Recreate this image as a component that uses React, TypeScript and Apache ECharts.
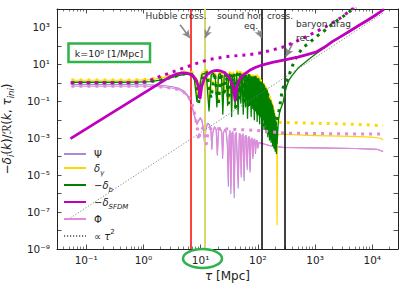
import React, { useEffect, useRef } from 'react';
import * as echarts from 'echarts';

// ---------- axis ticks ----------
const xMajorTicks = [0.1, 1, 10, 100, 1000, 10000];
const yLabelTicks = [1.000001e-9, 1e-7, 1e-5, 1e-3, 1e-1, 10, 1000];
const yMajorTicks = [1.000001e-9, 1e-8, 1e-7, 1e-6, 1e-5, 1e-4, 1e-3, 1e-2, 1e-1, 1, 10, 100, 1000, 9.9999e3];
const xMin = 0.0308;
const xMax = 28200;
const yMin = 1e-9;
const yMax = 1e4;

// ---------- vertical markers (tau in Mpc) ----------
const hubbleCross = 6.6;
const soundHorCross = 11.8;
const equality = 119;
const recombination = 297;

// ---------- series: [tau, value] ----------
const psiSolid: [number, number][] = [
  [0.055, 0.8], [0.5, 0.8], [1.0, 0.79], [1.6, 0.76], [2.2, 0.72], [3.1, 0.63], [4.2, 0.5], [5.0, 0.37], [5.8, 0.24],
  [6.5, 0.13], [7.0, 0.065], [7.6, 0.024], [8.2, 0.009], [8.6, 0.006], [9.2, 0.009], [9.8, 0.013], [10.5, 0.01],
  [11.2, 0.003], [11.7, 5e-4], [12.3, 0.003], [13.2, 0.0065], [14.3, 0.0055], [15.2, 0.002], [15.7, 2.5e-4],
  [16.3, 0.002], [17.5, 0.0042], [18.7, 0.003], [19.6, 1.2e-4], [20.5, 0.0026], [22, 0.0036], [23.4, 0.002],
  [24.2, 8e-5], [25.1, 0.002], [26.5, 0.003], [28, 0.0022], [29.3, 4e-4], [30.5, 2.5e-6], [31.6, 0.0015],
  [32.6, 0.0025], [33.8, 1e-6], [35, 0.0018], [36.6, 0.0022], [38.6, 6e-7], [40.2, 0.0016], [42, 0.002],
  [45.3, 2e-6], [47.5, 0.0018], [49.5, 0.0016], [51.2, 8e-6], [53, 0.0014], [55, 0.0017], [57.5, 5e-6],
  [60, 0.0013], [62.5, 0.0014], [65, 2e-5], [68, 0.0011], [70.5, 0.0012], [73, 1.5e-5], [76, 9e-4], [79, 0.001],
  [82, 8e-5], [85, 8e-4], [88, 9e-4], [91, 1.5e-4], [94, 7e-4], [97, 7.5e-4], [100, 3e-4], [105, 6e-4],
  [110, 5.5e-4], [124, 5e-4], [170, 3.8e-4], [277, 3.2e-4], [1000, 3e-4], [5000, 2.8e-4], [12000, 2.5e-4],
  [15500, 1.9e-4]
];

const phiSolid: [number, number][] = [
  [0.055, 0.66], [0.5, 0.66], [1.0, 0.65], [1.6, 0.63], [2.2, 0.6], [3.1, 0.53], [4.2, 0.42], [5.0, 0.31], [5.8, 0.2],
  [6.5, 0.11], [7.0, 0.055], [7.6, 0.02], [8.2, 0.008], [8.6, 0.0055], [9.2, 0.008], [9.8, 0.012], [10.5, 0.009],
  [11.2, 0.003], [11.7, 6e-4], [12.3, 0.003], [13.2, 0.006], [14.3, 0.005], [15.2, 0.002], [15.7, 3e-4],
  [16.3, 0.002], [17.5, 0.004], [18.7, 0.003], [19.6, 1.5e-4], [20.5, 0.0025], [22, 0.0035], [23.4, 0.002],
  [24.2, 1e-4], [25.1, 0.002], [26.5, 0.003], [28, 0.0022], [29.3, 5e-4], [30.5, 6e-6], [31.6, 0.0015],
  [32.6, 0.0025], [33.8, 2.5e-6], [35, 0.0018], [36.6, 0.0022], [38.6, 1.2e-6], [40.2, 0.0016], [42, 0.002],
  [45.3, 4e-6], [47.5, 0.0018], [49.5, 0.0016], [51.2, 1.2e-5], [53, 0.0014], [55, 0.0017], [57.5, 8e-6],
  [60, 0.0013], [62.5, 0.0014], [65, 3e-5], [68, 0.0011], [70.5, 0.0012], [73, 2e-5], [76, 9e-4], [79, 0.001],
  [82, 1e-4], [85, 8e-4], [88, 9e-4], [91, 2e-4], [94, 7e-4], [97, 7.5e-4], [100, 3e-4], [105, 6e-4],
  [110, 5.5e-4], [124, 5e-4], [170, 3.8e-4], [277, 3.2e-4], [1000, 3e-4], [5000, 2.8e-4], [12000, 2.5e-4],
  [15500, 1.9e-4]
];

const phiDotted: [number, number][] = [
  [0.055, 0.66], [0.5, 0.66], [1, 0.65], [2, 0.6], [3, 0.53], [4, 0.44], [5, 0.33], [6, 0.2], [6.8, 0.1], [7.5, 0.04],
  [8.2, 0.012], [8.8, 0.003], [9.2, 8e-4], [9.8, 0.002], [10.8, 0.0035], [11.8, 0.002], [12.6, 5e-4], [13.4, 0.002],
  [15, 0.0032], [18, 0.0034], [25, 0.0032], [40, 0.003], [70, 0.0028], [120, 0.0025], [200, 0.0021], [300, 0.0019],
  [1000, 0.0018], [5000, 0.0017], [15500, 0.0017]
];

const gammaSolid: [number, number][] = [
  [0.055, 1.38], [0.3, 1.38], [0.8, 1.4], [1.3, 1.5], [2, 1.8], [3, 2.4], [4, 3.1], [5, 3.6], [6, 3.8], [7, 3.2],
  [7.8, 1.8], [8.6, 0.2],
  [10.5, 3.6], [11.5, 4.3], [12.6, 3.4], [14.0, 0.06],
  [15.3, 3.5], [16.6, 4.3], [18.0, 3.0], [19.2, 0.12],
  [20.5, 3.4], [21.8, 4.2], [23.2, 2.8], [24.4, 0.05],
  [25.8, 3.3], [27.0, 4.1], [28.4, 2.6], [29.6, 0.15],
  [31.0, 3.2], [32.2, 4.0], [33.6, 2.5], [34.8, 0.04],
  [36.2, 3.1], [37.4, 3.9], [39.0, 2.3], [40.0, 0.1],
  [42.6, 3.8], [45.2, 0.05], [47.8, 3.7], [50.4, 0.2], [53, 3.6], [55.6, 0.06], [58.2, 3.4], [60.8, 0.12],
  [63.4, 3.3], [66, 0.04], [68.6, 3.1], [71.2, 0.15], [73.8, 2.9], [76.4, 0.05], [79, 2.8], [81.6, 0.1],
  [84.2, 2.6], [86.8, 0.03], [89.4, 2.4], [92, 0.08], [94.6, 2.2], [97.2, 0.03], [99.8, 1.9], [102.4, 0.06],
  [105, 1.6], [107.6, 0.02], [110.2, 1.4], [112.8, 0.04], [115.4, 1.2], [118, 0.015], [120.6, 1.0], [123.2, 0.03],
  [125.8, 0.8], [128.4, 0.01], [131, 0.65], [133.6, 0.02], [136.2, 0.55], [138.8, 0.006], [141.4, 0.45],
  [144, 0.012], [146.6, 0.34], [149.2, 0.004], [151.8, 0.25], [154.4, 0.008], [157, 0.19], [159.6, 0.003],
  [162.2, 0.15], [164.8, 0.005], [167.4, 0.12], [170, 0.002], [172.6, 0.1], [175.2, 0.004], [177.8, 0.085],
  [180.4, 0.0015], [183, 0.07], [185.6, 0.003], [188.2, 0.045], [190.8, 0.001], [193.4, 0.03], [196, 0.0015],
  [198.6, 0.02], [201.2, 6e-4], [203.8, 0.012], [206.4, 8e-4], [209, 0.008], [211.6, 4e-4], [214, 0.005],
  [217, 2e-8], [220, 0.0012], [230, 0.0016], [300, 0.0016], [1000, 0.0014], [3000, 0.0013], [10000, 0.00115],
  [14000, 0.001], [15500, 0.0008]
];

const gammaDotted: [number, number][] = [
  [0.055, 1.42], [0.5, 1.42], [1, 1.5], [2, 1.9], [3, 2.6], [4, 3.3], [5, 3.9], [6, 4.2], [7, 3.8], [8, 2.6],
  [9.2, 0.3], [11, 4.0], [12.8, 4.6], [15.2, 0.3], [17.5, 4.5], [20.3, 0.12], [22.6, 4.4], [25.6, 0.4], [28, 4.3],
  [30.8, 0.15], [33.2, 4.2], [36, 0.5], [38.4, 4.1], [41.2, 0.1], [43.8, 4.0], [46.4, 0.3], [49, 3.8], [51.6, 0.6],
  [54.2, 3.7], [56.8, 0.2], [59.4, 3.6], [62, 0.4], [64.6, 3.4], [67.2, 0.12], [69.8, 3.3], [72.4, 0.3], [75, 3.2],
  [77.6, 0.1], [80.2, 3.0], [82.8, 0.2], [85.4, 2.8], [88, 0.06], [90.6, 2.6], [93.2, 0.15], [95.8, 2.4],
  [98.4, 0.04], [101, 2.0], [103.6, 0.1], [106.2, 1.7], [108.8, 0.03], [111.4, 1.5], [114, 0.08], [116.6, 1.25],
  [119.2, 0.02], [121.8, 1.05], [124.4, 0.04], [127, 0.85], [129.6, 0.01], [132.2, 0.7], [134.8, 0.025],
  [137.4, 0.55], [140, 0.006], [142.6, 0.45], [145.2, 0.015], [147.8, 0.33], [150.4, 0.004], [153, 0.24],
  [155.6, 0.01], [158.2, 0.17], [160.8, 0.003], [163.4, 0.13], [166, 0.006], [168.6, 0.1], [171.2, 0.002],
  [173.8, 0.075], [176.4, 0.004], [179, 0.055], [181.6, 0.0012], [184.2, 0.04], [186.8, 0.0025], [189.4, 0.028],
  [192, 8e-4], [194.6, 0.02], [197.2, 0.0015], [199.8, 0.014], [202.4, 6e-4], [205, 0.01], [210, 0.007],
  [220, 0.006], [240, 0.0072], [400, 0.0069], [1000, 0.0065], [3000, 0.006], [8000, 0.0053], [15500, 0.0048]
];

const baryonSolid: [number, number][] = [
  [0.055, 1.08], [0.3, 1.08], [0.8, 1.1], [1.3, 1.17], [2, 1.4], [3, 1.85], [4, 2.4], [5, 2.8], [6, 2.95], [7, 2.5],
  [7.8, 1.4], [8.6, 0.1],
  [10.5, 2.8], [11.5, 3.3], [12.6, 2.6], [14.0, 0.03],
  [15.3, 2.7], [16.6, 3.3], [18.0, 2.3], [19.2, 0.05],
  [20.5, 2.6], [21.8, 3.2], [23.2, 2.1], [24.4, 0.02],
  [25.8, 2.5], [27.0, 3.1], [28.4, 2.0], [29.6, 0.06],
  [31.0, 2.4], [32.2, 3.0], [33.6, 1.9], [34.8, 0.015],
  [36.2, 2.3], [37.4, 2.9], [39.0, 1.7], [40.0, 0.04],
  [42.6, 2.85], [45.2, 0.02], [47.8, 2.8], [50.4, 0.08], [53, 2.7], [55.6, 0.02], [58.2, 2.55], [60.8, 0.05],
  [63.4, 2.5], [66, 0.012], [68.6, 2.3], [71.2, 0.06], [73.8, 2.2], [76.4, 0.015], [79, 2.1], [81.6, 0.04],
  [84.2, 1.95], [86.8, 0.01], [89.4, 1.8], [92, 0.03], [94.6, 1.65], [97.2, 0.008], [99.8, 1.4], [102.4, 0.02],
  [105, 1.2], [107.6, 0.006], [110.2, 1.05], [112.8, 0.015], [115.4, 0.9], [118, 0.004], [120.6, 0.75],
  [123.2, 0.01], [125.8, 0.6], [128.4, 0.003], [131, 0.5], [133.6, 0.006], [136.2, 0.4], [138.8, 0.002],
  [141.4, 0.33], [144, 0.004], [146.6, 0.25], [149.2, 0.0012], [151.8, 0.18], [154.4, 0.0025], [157, 0.14],
  [159.6, 8e-4], [162.2, 0.11], [164.8, 0.0015], [167.4, 0.09], [170, 6e-4], [172.6, 0.075], [175.2, 0.001],
  [177.8, 0.06], [180.4, 4e-4], [183, 0.05], [185.6, 8e-4], [188.2, 0.032], [190.8, 3e-4], [193.4, 0.022],
  [196, 5e-4], [198.6, 0.014], [201.2, 2e-4], [203.8, 0.009], [206.4, 3e-4], [209, 0.006], [211.6, 1.5e-4],
  [214, 0.004], [217, 5e-4], [222, 0.002], [228, 0.008], [240, 0.025], [255, 0.045], [277, 0.09], [295, 0.25],
  [317, 0.63], [350, 1.4], [390, 2.3], [505, 6.3], [760, 18], [1000, 34], [1200, 52], [2000, 165], [3000, 350],
  [4000, 610], [6000, 1330], [8000, 2280], [11000, 4250], [14000, 7150], [16000, 9400]
];

const baryonDotted: [number, number][] = [
  [0.055, 1.0], [0.5, 1.0], [1, 1.05], [2, 1.4], [3, 1.9], [4, 2.5], [5, 3.0], [6, 3.2], [7, 2.9], [8, 2.0],
  [9.2, 0.08], [11, 3.0], [12.8, 3.6], [15.2, 0.15], [17.5, 3.5], [20.3, 0.06], [22.6, 3.4], [25.6, 0.2],
  [28, 3.3], [30.8, 0.08], [33.2, 3.2], [36, 0.25], [38.4, 3.1], [41.2, 0.05], [43.8, 3.0], [46.4, 0.15],
  [49, 2.9], [51.6, 0.3], [54.2, 2.8], [56.8, 0.1], [59.4, 2.7], [62, 0.2], [64.6, 2.6], [67.2, 0.06],
  [69.8, 2.5], [72.4, 0.15], [75, 2.4], [77.6, 0.05], [80.2, 2.3], [82.8, 0.1], [85.4, 2.1], [88, 0.03],
  [90.6, 2.0], [93.2, 0.08], [95.8, 1.8], [98.4, 0.02], [101, 1.5], [103.6, 0.05], [106.2, 1.3], [108.8, 0.015],
  [111.4, 1.1], [114, 0.04], [116.6, 0.95], [119.2, 0.01], [121.8, 0.8], [124.4, 0.02], [127, 0.65],
  [129.6, 0.005], [132.2, 0.55], [134.8, 0.012], [137.4, 0.42], [140, 0.003], [142.6, 0.35], [145.2, 0.008],
  [147.8, 0.25], [150.4, 0.002], [153, 0.18], [155.6, 0.005], [158.2, 0.13], [160.8, 0.0015], [163.4, 0.1],
  [166, 0.003], [168.6, 0.075], [171.2, 0.001], [173.8, 0.055], [176.4, 0.002], [179, 0.04], [181.6, 6e-4],
  [184.2, 0.03], [186.8, 0.0012], [189.4, 0.02], [192, 4e-4], [194.6, 0.014], [197.2, 8e-4], [199.8, 0.01],
  [202.4, 3e-4], [205, 0.007], [210, 0.006], [220, 0.012], [232, 0.025], [249, 0.1], [265, 0.35], [280, 0.6],
  [300, 0.9], [317, 1.2], [340, 2.2], [362, 3.5], [400, 8], [475, 27], [610, 80], [810, 155], [1110, 360],
  [1530, 750], [1940, 1400], [3000, 3700], [4500, 9500], [5200, 13000]
];

const sfdmSolid: [number, number][] = [
  [0.053, 9.5e-4], [2.9, 2.1], [3.8, 3.0], [4.7, 3.5], [5.6, 3.4], [6.5, 3.0], [7.5, 2.3], [8.5, 1.3], [9.3, 0.5],
  [9.8, 0.15], [10.4, 0.6], [11.5, 1.6], [13, 2.8], [15, 3.8], [17, 4.5], [19.3, 4.8], [22, 4.5], [26, 3.6],
  [30, 2.4], [34, 1.3], [37.5, 0.5], [40, 0.11], [42.5, 0.5], [46, 1.2], [52, 2.2], [60, 3.2], [72, 4.8],
  [90, 6.8], [122, 9.5], [180, 13], [310, 18], [500, 25], [750, 35], [1070, 48], [1500, 90], [2000, 170],
  [3000, 360], [4000, 620], [6000, 1350], [8000, 2300], [11000, 4300], [14000, 7200], [16000, 9500]
];

const sfdmDotted: [number, number][] = [
  [0.053, 1.0], [0.5, 1.0], [1.0, 1.1], [1.5, 1.6], [2.0, 2.3], [3, 3.6], [4.0, 5.0], [6.0, 7.7], [9, 12],
  [13.5, 17.8], [20, 22], [30, 27], [45, 30], [67, 33], [108, 41], [180, 60], [300, 94], [545, 216],
  [1070, 610], [1780, 1400], [3000, 3800], [4400, 10000], [5500, 15000]
];

const tauSquared: [number, number][] = [[0.0527, 4.8e-8], [15500, 6000]];

// annotation arrows: [from tau, from value, to tau, to value]
const arrows: [number, number, number, number][] = [
  [4.37, 1410, 6.5, 267],
  [14.6, 1140, 11.9, 267],
  [101.6, 690, 116, 267],
  [410, 143, 310, 27]
];

const FONT = 'DejaVu Sans';
const SUP: Record<string, string> = {
  '-': '⁻', '0': '⁰', '1': '¹', '2': '²', '3': '³', '4': '⁴', '5': '⁵', '6': '⁶', '7': '⁷', '8': '⁸', '9': '⁹'
};
const pow10Label = (v: number) => {
  const e = Math.round(Math.log10(v));
  return '10' + String(e).split('').map((c) => SUP[c]).join('');
};

const xMinorTicks: number[] = [];
for (let d = -2; d <= 4; d++) {
  for (let m = 2; m <= 9; m++) {
    const v = m * Math.pow(10, d);
    if (v > xMin && v < xMax) xMinorTicks.push(v);
  }
}

const legendNames = ['Psi', 'gamma', 'baryon', 'sfdm', 'Phi', 'tau2'];
const legendLabels: Record<string, string> = {
  Psi: '{t|Ψ}',
  gamma: '{i|δ}{s|γ}',
  baryon: '{t|−}{i|δ}{s|b}',
  sfdm: '{t|−}{i|δ}{s|SFDM}',
  Phi: '{t|Φ}',
  tau2: '{t|∝ }{i|τ}{p|2}'
};

function lineSeries(name: string, data: [number, number][], color: string, width: number, dash: number[] | null, z: number) {
  return {
    name,
    type: 'line',
    data,
    symbol: 'none',
    showSymbol: false,
    silent: true,
    clip: true,
    z,
    lineStyle: { color, width, type: dash ? dash : 'solid', cap: 'butt', join: 'round' },
    itemStyle: { color },
    emphasis: { disabled: true }
  };
}

const axisLineStyle = { color: '#222', width: 1 };

function buildOption() {
  const dot = [3, 5];
  const series: any[] = [
    lineSeries('Psi', psiSolid, '#a98ad8', 1.1, null, 2),
    lineSeries('gamma', gammaSolid, '#ffd700', 1.2, null, 3),
    lineSeries('Phi', phiSolid, '#e389d9', 1.1, null, 4),
    lineSeries('gammaDot', gammaDotted, '#ffd700', 3, dot, 5),
    lineSeries('baryon', baryonSolid, '#008000', 1.3, null, 6),
    lineSeries('baryonDot', baryonDotted, '#008000', 3, dot, 7),
    lineSeries('PhiDot', phiDotted, '#e389d9', 3, dot, 8),
    lineSeries('sfdmDot', sfdmDotted, '#bf00bf', 3, dot, 9),
    lineSeries('sfdm', sfdmSolid, '#bf00bf', 2.8, null, 10),
    lineSeries('tau2', tauSquared, '#777777', 0.9, [1.2, 1.8], 11)
  ];
  const vlines = [
    { xAxis: hubbleCross, lineStyle: { color: '#ff0000', width: 1.5, type: 'solid' } },
    { xAxis: soundHorCross, lineStyle: { color: '#d8d66c', width: 2, type: 'solid' } },
    { xAxis: equality, lineStyle: { color: '#000000', width: 1.5, type: 'solid' } },
    { xAxis: recombination, lineStyle: { color: '#000000', width: 1.5, type: 'solid' } }
  ];
  const arrowLines = arrows.map((a) => [
    { coord: [a[0], a[1]], symbol: 'none' },
    { coord: [a[2], a[3]], symbol: 'arrow', symbolSize: [6, 8], lineStyle: { color: '#888', width: 1.6, type: 'solid' } }
  ]);
  series[series.length - 1].markLine = {
    silent: true,
    symbol: ['none', 'none'],
    label: { show: false },
    emphasis: { disabled: true },
    animation: false,
    lineStyle: { type: 'solid' },
    data: [...vlines, ...arrowLines]
  };

  const xBase = { type: 'log', logBase: 10, min: xMin, max: xMax, gridIndex: 0, splitLine: { show: false } };
  const yBase = { type: 'log', logBase: 10, min: yMin, max: yMax, gridIndex: 0, splitLine: { show: false } };
  const annot = (text: string, x: number, y: number, align: string) => ({
    type: 'text',
    x,
    y,
    z: 100,
    style: { text, fontSize: 9, lineHeight: 9, fontFamily: FONT, fill: '#333', align, verticalAlign: 'middle' }
  });

  return {
    animation: false,
    backgroundColor: '#ffffff',
    textStyle: { fontFamily: FONT },
    grid: { left: 57, right: 9, top: 9, bottom: 42, containLabel: false, outerBoundsMode: 'none' },
    legend: {
      data: legendNames,
      orient: 'vertical',
      left: 63,
      top: 149,
      itemWidth: 22,
      itemHeight: 12,
      itemGap: 4,
      padding: 0,
      selectedMode: false,
      itemStyle: { opacity: 0 },
      formatter: (n: string) => legendLabels[n] || n,
      textStyle: {
        fontFamily: FONT,
        color: '#222',
        padding: [0, 0, 0, 3],
        rich: {
          t: { fontSize: 10, lineHeight: 16, fontFamily: FONT, color: '#222' },
          i: { fontSize: 10, lineHeight: 16, fontStyle: 'italic', fontFamily: FONT, color: '#222' },
          s: { fontSize: 7, lineHeight: 9, fontStyle: 'italic', verticalAlign: 'bottom', fontFamily: FONT, color: '#222' },
          p: { fontSize: 7, lineHeight: 9, verticalAlign: 'top', fontFamily: FONT, color: '#222' }
        }
      }
    },
    xAxis: [
      {
        ...xBase,
        position: 'bottom',
        axisLine: { show: true, onZero: false, lineStyle: axisLineStyle },
        axisTick: { show: true, inside: true, length: 4.5, customValues: xMajorTicks, lineStyle: { color: '#222', width: 0.8 } },
        axisLabel: {
          show: true,
          customValues: xMajorTicks,
          formatter: (v: number) => pow10Label(v),
          fontSize: 10.5,
          fontFamily: FONT,
          color: '#222',
          margin: 5
        },
        name: '{i|τ} [Mpc]',
        nameLocation: 'middle',
        nameGap: 17,
        nameTextStyle: {
          fontSize: 12,
          fontFamily: FONT,
          color: '#222',
          rich: { i: { fontSize: 12, fontStyle: 'italic', fontFamily: FONT, color: '#222' } }
        }
      },
      {
        ...xBase,
        position: 'bottom',
        axisLine: { show: false, onZero: false },
        axisTick: { show: true, inside: true, length: 2.5, customValues: xMinorTicks, lineStyle: { color: '#222', width: 0.6 } },
        axisLabel: { show: false }
      },
      {
        ...xBase,
        position: 'top',
        axisLine: { show: true, onZero: false, lineStyle: axisLineStyle },
        axisTick: { show: true, inside: true, length: 4.5, customValues: xMajorTicks, lineStyle: { color: '#222', width: 0.8 } },
        axisLabel: { show: false }
      },
      {
        ...xBase,
        position: 'top',
        axisLine: { show: false, onZero: false },
        axisTick: { show: true, inside: true, length: 2.5, customValues: xMinorTicks, lineStyle: { color: '#222', width: 0.6 } },
        axisLabel: { show: false }
      }
    ],
    yAxis: [
      {
        ...yBase,
        position: 'left',
        axisLine: { show: true, onZero: false, lineStyle: axisLineStyle },
        axisTick: { show: true, inside: true, length: 4.5, customValues: yMajorTicks, lineStyle: { color: '#222', width: 0.8 } },
        axisLabel: {
          show: true,
          customValues: yLabelTicks,
          formatter: (v: number) => pow10Label(v),
          fontSize: 10.5,
          fontFamily: FONT,
          color: '#222',
          margin: 7
        },
        name: '{t|−}{i|δ}{s|i}{t|(}{i|k}{t|)/ℛ(}{i|k}{t|, }{i|τ}{s|ini}{t|)}',
        nameLocation: 'middle',
        nameRotate: 90,
        nameGap: 35,
        nameTextStyle: {
          fontFamily: FONT,
          color: '#222',
          rich: {
            t: { fontSize: 12, lineHeight: 18, fontFamily: FONT, color: '#222' },
            i: { fontSize: 12, lineHeight: 18, fontStyle: 'italic', fontFamily: FONT, color: '#222' },
            s: { fontSize: 8.5, lineHeight: 10, fontStyle: 'italic', verticalAlign: 'bottom', fontFamily: FONT, color: '#222' }
          }
        }
      },
      {
        ...yBase,
        position: 'right',
        axisLine: { show: true, onZero: false, lineStyle: axisLineStyle },
        axisTick: { show: true, inside: true, length: 4.5, customValues: yMajorTicks, lineStyle: { color: '#222', width: 0.8 } },
        axisLabel: { show: false }
      }
    ],
    series,
    graphic: [
      {
        type: 'rect',
        shape: { x: 68.5, y: 43.5, width: 81.5, height: 18.5 },
        style: { fill: 'rgba(0,0,0,0)', stroke: '#2db34a', lineWidth: 2.5 },
        z: 100
      },
      {
        type: 'text',
        x: 109,
        y: 53,
        style: { text: 'k=10⁰ [1/Mpc]', fontSize: 9.5, fontFamily: FONT, fill: '#222', align: 'center', verticalAlign: 'middle' },
        z: 100
      },
      {
        type: 'ellipse',
        shape: { cx: 202.5, cy: 258.5, rx: 19.5, ry: 9.5 },
        style: { fill: 'rgba(0,0,0,0)', stroke: '#2db34a', lineWidth: 2.5 },
        z: 100
      },
      annot('Hubble cross.', 176, 16, 'center'),
      annot('sound hor. cross.', 255, 15.5, 'center'),
      annot('eq.', 251, 26, 'center'),
      annot('baryon drag', 296, 24, 'left'),
      annot('rec.', 296, 37.5, 'left')
    ]
  };
}

export default function App() {
  const ref = useRef<HTMLDivElement>(null);
  useEffect(() => {
    if (!ref.current) return;
    const chart = echarts.init(ref.current, null, { renderer: 'svg' });
    chart.setOption(buildOption() as any);
    return () => chart.dispose();
  }, []);
  return <div ref={ref} style={{ position: 'fixed', left: 0, top: 0, width: 407, height: 291 }} />;
}
